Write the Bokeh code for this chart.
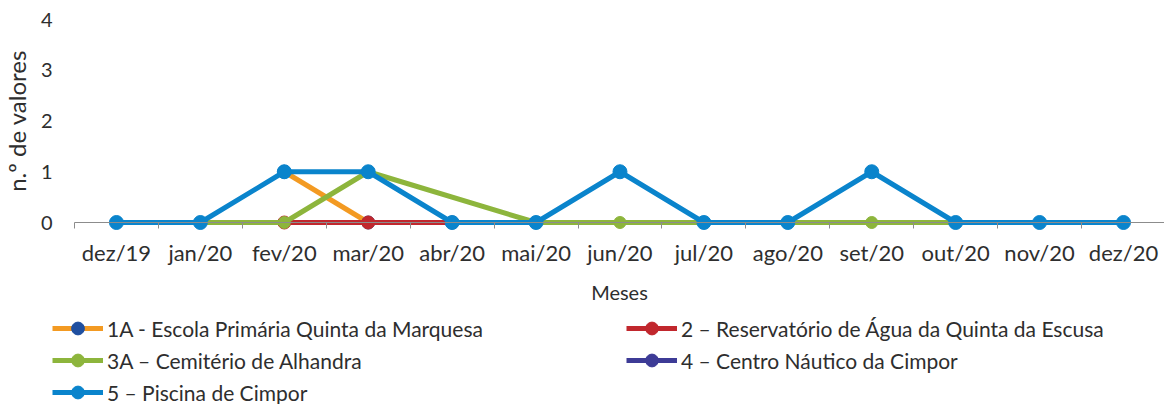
from bokeh.plotting import figure
from bokeh.models import Range1d, FixedTicker, Legend, LegendItem, ColumnDataSource
from bokeh.embed import file_html
from bokeh.resources import INLINE

months = ["dez/19", "jan/20", "fev/20", "mar/20", "abr/20", "mai/20", "jun/20",
          "jul/20", "ago/20", "set/20", "out/20", "nov/20", "dez/20"]

names = ["1A - Escola Primária Quinta da Marquesa",
         "2 – Reservatório de Água da Quinta da Escusa",
         "3A – Cemitério de Alhandra",
         "4 – Centro Náutico da Cimpor",
         "5 – Piscina de Cimpor"]

s1A = [None, None, 1, 0, None, None, None, None, None, None, None, None, None]
s2 = [None, None, 0, 0, 0, None, None, None, None, None, None, None, None]
s3A = [None, 0, 0, 1, None, 0, 0, 0, 0, 0, 0, None, None]
s4 = [None] * 13
s5 = [0, 0, 1, 1, 0, 0, 1, 0, 0, 1, 0, 0, 0]

y_ticks = [0, 1, 2, 3, 4]

series = [s1A, s2, s3A, s4, s5]
line_colors = ["#f39a22", "#c1272d", "#8db53c", "#3d3b96", "#0a84cc"]
marker_colors = ["#1f4fa0", "#c1272d", "#8db53c", "#3d3b96", "#0a84cc"]
marker_sizes = [13, 13, 12, 13, 14]

FONT = "Lato"
TXT = "#2e2e2e"

W, H = 1164, 404
LEFT = 74          # px left of the first category slot (y axis labels)
UNIT_X = 83.92
Y0 = 222           # pixel row of y = 0
UNIT_Y = 50.75
x0 = -0.5 - LEFT / UNIT_X
x1 = x0 + W / UNIT_X
y_top = 4 + (Y0 - 4 * UNIT_Y) / UNIT_Y
y_bot = -(H - Y0) / UNIT_Y

p = figure(frame_width=W, frame_height=H, output_backend="svg", toolbar_location=None,
           x_range=Range1d(x0, x1), y_range=Range1d(y_bot, y_top),
           min_border=0)
p.outline_line_color = None
p.background_fill_color = "white"
p.border_fill_color = "white"
p.xgrid.grid_line_color = None
p.ygrid.grid_line_color = None

xa = p.xaxis[0]
xa.fixed_location = 0
xa.bounds = (-0.5, len(months) - 0.5)
xa.ticker = FixedTicker(ticks=list(range(len(months))),
                        minor_ticks=[i - 0.5 for i in range(len(months) + 1)])
xa.major_label_overrides = {i: m for i, m in enumerate(months)}
xa.axis_line_color = "#8c8c8c"
xa.axis_line_width = 1
xa.major_tick_line_color = None
xa.major_tick_out = 0
xa.major_tick_in = 0
xa.minor_tick_line_color = "#8c8c8c"
xa.minor_tick_in = 0
xa.minor_tick_out = 6
xa.major_label_standoff = 10
xa.major_label_text_font = FONT
xa.major_label_text_font_size = "22px"
xa.major_label_text_color = TXT
xa.axis_label = "Meses"
xa.axis_label_text_font = FONT
xa.axis_label_text_font_size = "20px"
xa.axis_label_text_font_style = "normal"
xa.axis_label_text_color = TXT
xa.axis_label_standoff = 11

ya = p.yaxis[0]
ya.fixed_location = -0.5
ya.bounds = (0, 4)
ya.ticker = FixedTicker(ticks=y_ticks)
ya.axis_line_color = None
ya.major_tick_line_color = None
ya.minor_tick_line_color = None
ya.major_tick_out = 0
ya.major_tick_in = 0
ya.major_label_standoff = 22
ya.major_label_text_font = FONT
ya.major_label_text_font_size = "20px"
ya.major_label_text_color = TXT
ya.axis_label = "n.º de valores"
ya.axis_label_text_font = FONT
ya.axis_label_text_font_size = "24px"
ya.axis_label_text_font_style = "normal"
ya.axis_label_text_color = TXT
ya.axis_label_standoff = 7

items = {}
for name, vals, lc, mc, ms in zip(names, series, line_colors, marker_colors, marker_sizes):
    xs = [i for i, v in enumerate(vals) if v is not None]
    ys = [v for v in vals if v is not None]
    if not xs:  # series without values: keep one empty (NaN) point so its legend entry is drawn
        xs, ys = [0], [float("nan")]
    src = ColumnDataSource(data=dict(x=xs, y=ys))
    r1 = p.line("x", "y", source=src, line_color=lc, line_width=5)
    r2 = p.scatter("x", "y", source=src, size=ms, fill_color=mc, line_color=mc)
    items[name] = LegendItem(label=name, renderers=[r1, r2])

# legend fills column by column: order so rows read 1A|2, 3A|4, 5
order = [0, 2, 4, 1, 3]
legend = Legend(items=[items[names[i]] for i in order], ncols=2, location=(52, -4),
                label_text_font=FONT, label_text_font_size="21px",
                label_text_color=TXT, glyph_width=51, glyph_height=32,
                label_height=20, label_standoff=4, spacing=0, padding=0,
                margin=0, label_width=519, border_line_color=None,
                background_fill_alpha=0)
p.add_layout(legend, "center")

open("out.html", "w").write(file_html(p, INLINE))
